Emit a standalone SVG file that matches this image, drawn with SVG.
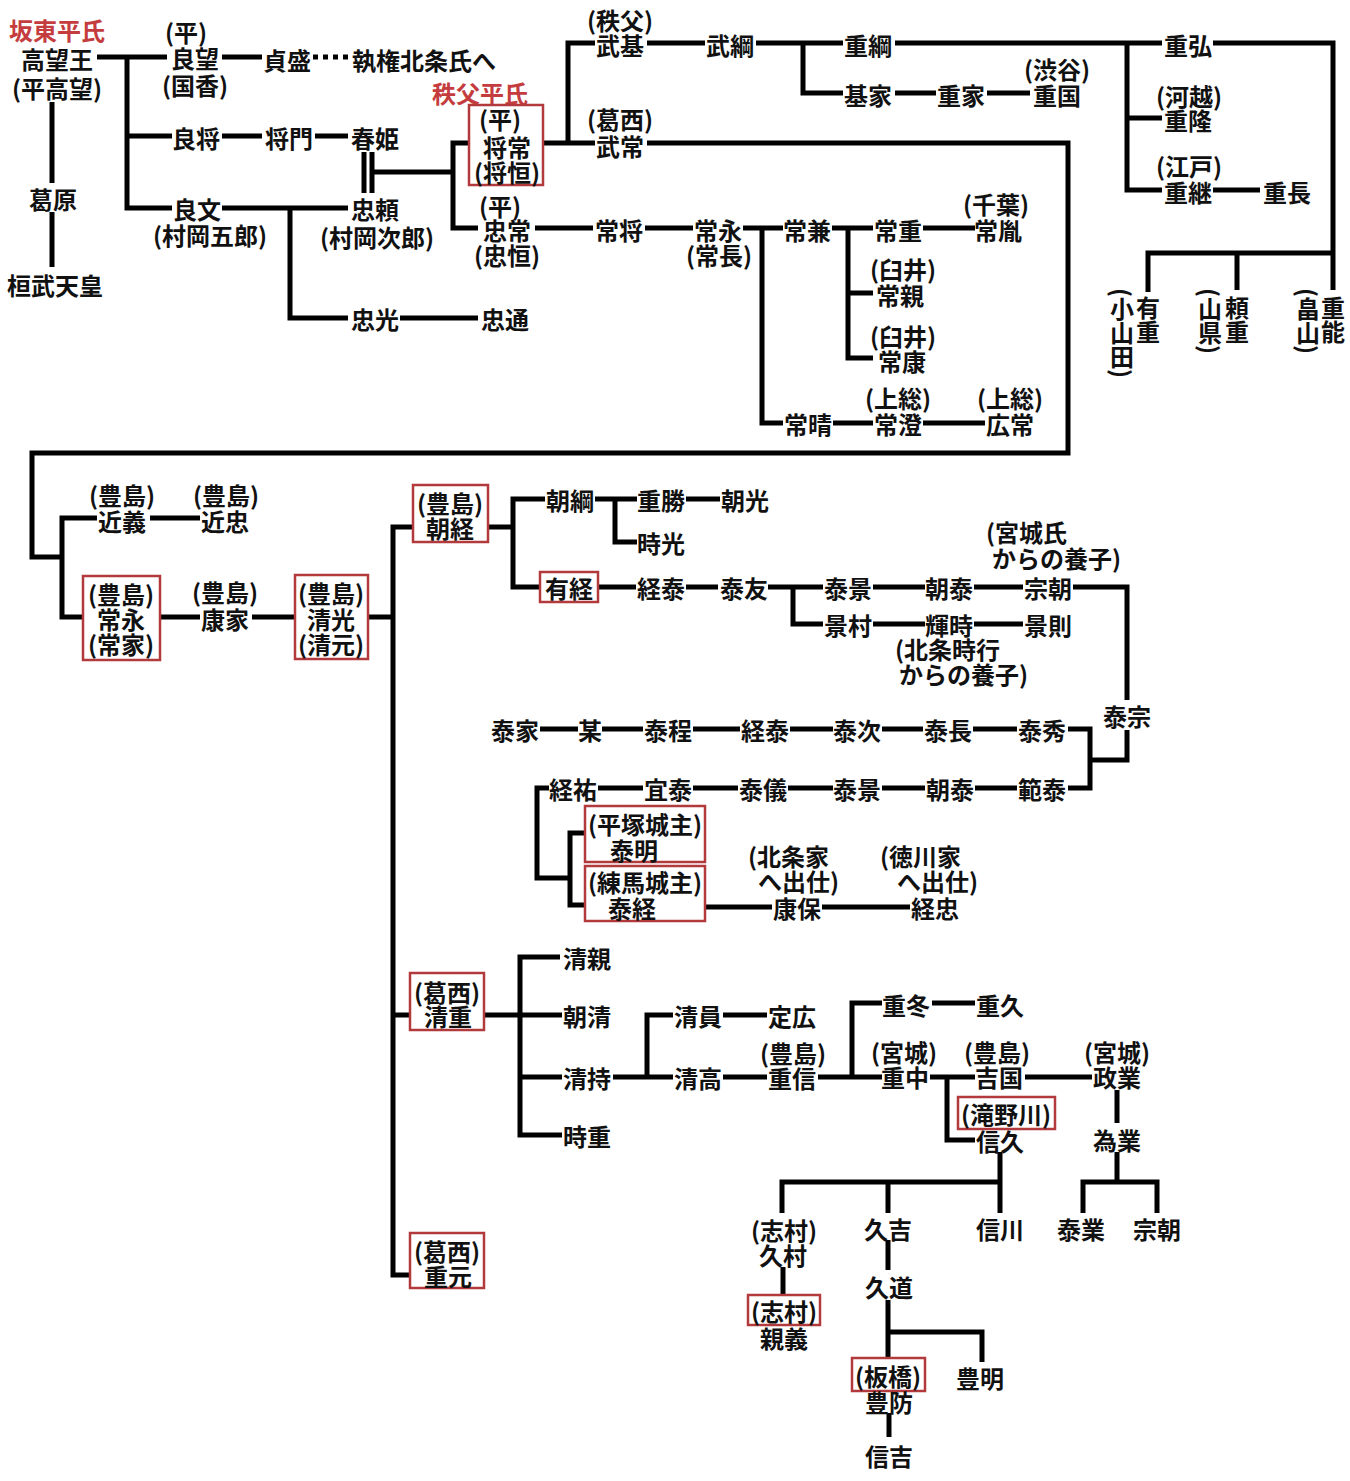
<svg xmlns="http://www.w3.org/2000/svg" width="1350" height="1481" viewBox="0 0 1350 1481">
<style>
text{font-family:"Noto Sans CJK JP","Noto Sans CJK SC",sans-serif;font-size:24px;font-weight:bold;fill:#111;text-anchor:middle;dominant-baseline:central}
text.s{text-anchor:start}
text.r{fill:#c43c3e}
text.v{writing-mode:vertical-rl;text-anchor:start}
.box{fill:none;stroke:#b23a3c;stroke-width:2.5}
.ln{fill:none;stroke:#000;stroke-width:5;stroke-linejoin:miter}
.dot{fill:none;stroke:#000;stroke-width:5;stroke-dasharray:5 5}
</style>
<rect width="1350" height="1481" fill="#fff"/>
<g id="connectors">
<path class="ln" d="M97,57 H167 M127,57 V208 H172 M127,136 H172"/>
<path class="ln" d="M52,102 V183 M52,212 V267"/>
<path class="ln" d="M222,57 H262"/>
<path class="dot" d="M313,57 H352"/>
<path class="ln" d="M222,136 H262 M315,136 H348"/>
<path class="ln" d="M364,152 V193 M372,152 V193 M372,172 H453"/>
<path class="ln" d="M222,208 H348 M290,208 V318 H348"/>
<path class="ln" d="M400,318 H478"/>
<path class="ln" d="M470,143 H453 V228 H478"/>
<path class="ln" d="M543,143 H595 M568,143 V43 H595"/>
<path class="ln" d="M647,43 H705 M756,43 H843 M803,43 V93 H843"/>
<path class="ln" d="M895,93 H936 M987,93 H1030"/>
<path class="ln" d="M895,43 H1162 M1127,43 V190 H1162 M1127,118 H1162"/>
<path class="ln" d="M1213,43 H1333 V290 M1148,292 V253 H1333 M1237,253 V290"/>
<path class="ln" d="M1213,190 H1260"/>
<path class="ln" d="M647,143 H1068 V453 H32 V557 H62 M97,518 H62 V617 H83"/>
<path class="ln" d="M150,518 H200"/>
<path class="ln" d="M535,228 H593 M645,228 H693 M743,228 H783 M762,228 V423 H783"/>
<path class="ln" d="M832,228 H873 M848,228 V358 H873 M848,293 H873"/>
<path class="ln" d="M923,228 H975"/>
<path class="ln" d="M833,423 H873 M923,423 H985"/>
<path class="ln" d="M160,617 H200 M252,617 H295 M368,617 H393 M413,527 H393 V1275 H410 M393,1015 H410"/>
<path class="ln" d="M488,527 H513 M545,499 H513 V587 H540"/>
<path class="ln" d="M595,499 H637 M615,499 V542 H637 M686,499 H720"/>
<path class="ln" d="M598,587 H636 M686,587 H718 M768,587 H823 M793,587 V624 H823"/>
<path class="ln" d="M873,587 H925 M974,587 H1023 M1073,587 H1127 V700"/>
<path class="ln" d="M873,624 H925 M974,624 H1023"/>
<path class="ln" d="M1127,730 V760 H1090 M1068,729 H1090 V788 H1068"/>
<path class="ln" d="M540,729 H578 M602,729 H643 M693,729 H740 M790,729 H833 M882,729 H923 M973,729 H1017"/>
<path class="ln" d="M598,788 H643 M693,788 H738 M788,788 H833 M882,788 H925 M975,788 H1017"/>
<path class="ln" d="M549,788 H537 V878 H570 M585,833 H570 V905 H585"/>
<path class="ln" d="M705,907 H772 M822,907 H910"/>
<path class="ln" d="M484,1015 H520 M560,957 H520 V1135 H562 M520,1077 H562 M520,1015 H562"/>
<path class="ln" d="M613,1077 H673 M647,1077 V1015 H673"/>
<path class="ln" d="M723,1015 H767 M723,1077 H767"/>
<path class="ln" d="M818,1077 H882 M852,1077 V1003 H882 M932,1003 H975"/>
<path class="ln" d="M930,1077 H975 M947,1077 V1140 H975 M1025,1077 H1092"/>
<path class="ln" d="M1117,1090 V1123 M1117,1152 V1182 M1083,1213 V1182 H1157 V1213"/>
<path class="ln" d="M1000,1152 V1213 M1000,1182 H782 V1213 M888,1182 V1213"/>
<path class="ln" d="M783,1267 V1296"/>
<path class="ln" d="M888,1240 V1270 M888,1300 V1358 M888,1332 H982 V1362"/>
<path class="ln" d="M889,1413 V1437"/>
</g>
<g id="n_bandou"><text class="r" x="57" y="29">坂東平氏</text></g>
<g id="n_takamochi"><text x="57" y="58">高望王</text><text x="57" y="87">(平高望)</text></g>
<g id="n_kuzuhara"><text x="53" y="198">葛原</text></g>
<g id="n_kanmu"><text x="55" y="284">桓武天皇</text></g>
<g id="n_yoshimochi"><text x="186" y="31">(平)</text><text x="195" y="57">良望</text><text x="195" y="84">(国香)</text></g>
<g id="n_sadamori"><text x="287" y="59">貞盛</text></g>
<g id="n_shikken"><text x="424" y="59">執権北条氏へ</text></g>
<g id="n_yoshimasa"><text x="196" y="137">良将</text></g>
<g id="n_masakado"><text x="289" y="137">将門</text></g>
<g id="n_haruhime"><text x="375" y="137">春姫</text></g>
<g id="n_yoshifumi"><text x="197" y="208">良文</text><text x="210" y="234">(村岡五郎)</text></g>
<g id="n_tadayori"><text x="375" y="208">忠頼</text><text x="377" y="236">(村岡次郎)</text></g>
<g id="n_tadamitsu"><text x="375" y="318">忠光</text></g>
<g id="n_tadamichi"><text x="505" y="318">忠通</text></g>
<g id="n_chichibu"><text class="r" x="480" y="92">秩父平氏</text></g>
<g id="n_masatsune"><rect class="box" x="469" y="105" width="74" height="80"/><text x="500" y="118">(平)</text><text x="507" y="146">将常</text><text x="507" y="171">(将恒)</text></g>
<g id="n_taketomo"><text x="620" y="19">(秩父)</text><text x="620" y="44">武基</text></g>
<g id="n_taketsuna"><text x="730" y="44">武綱</text></g>
<g id="n_shigetsuna"><text x="868" y="44">重綱</text></g>
<g id="n_motoie"><text x="868" y="94">基家</text></g>
<g id="n_shigeie"><text x="961" y="94">重家</text></g>
<g id="n_shigekuni"><text x="1057" y="68">(渋谷)</text><text x="1057" y="94">重国</text></g>
<g id="n_shigehiro"><text x="1188" y="44">重弘</text></g>
<g id="n_shigetaka"><text x="1189" y="95">(河越)</text><text x="1188" y="119">重隆</text></g>
<g id="n_shigetsugu"><text x="1189" y="165">(江戸)</text><text x="1188" y="191">重継</text></g>
<g id="n_shigenaga"><text x="1287" y="191">重長</text></g>
<g id="n_arishige"><text class="v" x="1122" y="288">(小山田)</text><text class="v" x="1148" y="296">有重</text></g>
<g id="n_yorishige"><text class="v" x="1210" y="288">(山県)</text><text class="v" x="1237" y="296">頼重</text></g>
<g id="n_shigeyoshi"><text class="v" x="1308" y="288">(畠山)</text><text class="v" x="1333" y="296">重能</text></g>
<g id="n_taketsune"><text x="620" y="118">(葛西)</text><text x="620" y="145">武常</text></g>
<g id="n_tadatsune"><text x="500" y="205">(平)</text><text x="507" y="229">忠常</text><text x="507" y="254">(忠恒)</text></g>
<g id="n_tsunemasa"><text x="619" y="229">常将</text></g>
<g id="n_tsunenaga"><text x="718" y="229">常永</text><text x="719" y="254">(常長)</text></g>
<g id="n_tsunekane"><text x="807" y="229">常兼</text></g>
<g id="n_tsuneshige"><text x="898" y="229">常重</text></g>
<g id="n_tsunetane"><text x="996" y="203">(千葉)</text><text x="998" y="229">常胤</text></g>
<g id="n_tsunechika"><text x="903" y="268">(臼井)</text><text x="900" y="294">常親</text></g>
<g id="n_tsuneyasu"><text x="903" y="335">(臼井)</text><text x="902" y="360">常康</text></g>
<g id="n_tsuneharu"><text x="808" y="423">常晴</text></g>
<g id="n_tsunezumi"><text x="898" y="397">(上総)</text><text x="898" y="423">常澄</text></g>
<g id="n_hirotsune"><text x="1010" y="397">(上総)</text><text x="1010" y="423">広常</text></g>
<g id="n_chikayoshi"><text x="122" y="494">(豊島)</text><text x="122" y="520">近義</text></g>
<g id="n_chikatada"><text x="226" y="494">(豊島)</text><text x="225" y="520">近忠</text></g>
<g id="n_tsunenaga2"><rect class="box" x="83" y="576" width="77" height="84"/><text x="121" y="593">(豊島)</text><text x="121" y="618">常永</text><text x="121" y="643">(常家)</text></g>
<g id="n_yasuie"><text x="225" y="591">(豊島)</text><text x="225" y="618">康家</text></g>
<g id="n_kiyomitsu"><rect class="box" x="295" y="575" width="73" height="84"/><text x="331" y="592">(豊島)</text><text x="331" y="618">清光</text><text x="331" y="643">(清元)</text></g>
<g id="n_tomotsune"><rect class="box" x="413" y="485" width="75" height="57"/><text x="450" y="502">(豊島)</text><text x="450" y="527">朝経</text></g>
<g id="n_tomotsuna"><text x="570" y="499">朝綱</text></g>
<g id="n_shigekatsu"><text x="661" y="499">重勝</text></g>
<g id="n_tomomitsu"><text x="745" y="499">朝光</text></g>
<g id="n_tokimitsu"><text x="661" y="542">時光</text></g>
<g id="n_aritsune"><rect class="box" x="540" y="572" width="58" height="30"/><text x="569" y="587">有経</text></g>
<g id="n_tsuneyasu2"><text x="661" y="587">経泰</text></g>
<g id="n_yasutomo"><text x="744" y="587">泰友</text></g>
<g id="n_yasukage"><text x="848" y="587">泰景</text></g>
<g id="n_tomoyasu"><text x="949" y="587">朝泰</text></g>
<g id="n_munetomo"><text class="s" x="986" y="531">(宮城氏</text><text class="s" x="992" y="557">からの養子)</text><text x="1048" y="587">宗朝</text></g>
<g id="n_kagemura"><text x="848" y="624">景村</text></g>
<g id="n_terutoki"><text x="949" y="624">輝時</text><text class="s" x="895" y="648">(北条時行</text><text class="s" x="899" y="673">からの養子)</text></g>
<g id="n_kagenori"><text x="1048" y="624">景則</text></g>
<g id="n_yasumune"><text x="1127" y="715">泰宗</text></g>
<g id="n_yasuie2"><text x="515" y="729">泰家</text></g>
<g id="n_bou"><text x="590" y="729">某</text></g>
<g id="n_yasunori"><text x="668" y="729">泰程</text></g>
<g id="n_tsuneyasu3"><text x="765" y="729">経泰</text></g>
<g id="n_yasutsugu"><text x="857" y="729">泰次</text></g>
<g id="n_yasunaga"><text x="948" y="729">泰長</text></g>
<g id="n_yasuhide"><text x="1042" y="729">泰秀</text></g>
<g id="n_tsunesuke"><text x="573" y="788">経祐</text></g>
<g id="n_yoshiyasu"><text x="668" y="788">宜泰</text></g>
<g id="n_yasunori2"><text x="763" y="788">泰儀</text></g>
<g id="n_yasukage2"><text x="857" y="788">泰景</text></g>
<g id="n_tomoyasu2"><text x="950" y="788">朝泰</text></g>
<g id="n_noriyasu"><text x="1042" y="788">範泰</text></g>
<g id="n_yasuaki"><rect class="box" x="585" y="806" width="120" height="56"/><text x="645" y="823">(平塚城主)</text><text x="634" y="849">泰明</text></g>
<g id="n_yasutsune"><rect class="box" x="585" y="866" width="120" height="55"/><text x="645" y="881">(練馬城主)</text><text x="632" y="907">泰経</text></g>
<g id="n_yasuyasu"><text class="s" x="748" y="855">(北条家</text><text class="s" x="758" y="880">へ出仕)</text><text x="797" y="907">康保</text></g>
<g id="n_tsunetada"><text class="s" x="880" y="855">(徳川家</text><text class="s" x="897" y="880">へ出仕)</text><text x="935" y="907">経忠</text></g>
<g id="n_kiyoshige"><rect class="box" x="410" y="973" width="74" height="57"/><text x="447" y="991">(葛西)</text><text x="448" y="1015">清重</text></g>
<g id="n_kiyochika"><text x="587" y="957">清親</text></g>
<g id="n_tomokiyo"><text x="587" y="1015">朝清</text></g>
<g id="n_kiyomochi"><text x="587" y="1077">清持</text></g>
<g id="n_tokishige"><text x="587" y="1135">時重</text></g>
<g id="n_kiyokazu"><text x="698" y="1015">清員</text></g>
<g id="n_sadahiro"><text x="792" y="1015">定広</text></g>
<g id="n_kiyotaka"><text x="698" y="1077">清高</text></g>
<g id="n_shigenobu"><text x="793" y="1052">(豊島)</text><text x="792" y="1077">重信</text></g>
<g id="n_shigefuyu"><text x="906" y="1004">重冬</text></g>
<g id="n_shigehisa"><text x="1000" y="1004">重久</text></g>
<g id="n_shigenaka"><text x="904" y="1051">(宮城)</text><text x="905" y="1076">重中</text></g>
<g id="n_yoshikuni"><text x="997" y="1051">(豊島)</text><text x="999" y="1076">吉国</text></g>
<g id="n_masanari"><text x="1117" y="1051">(宮城)</text><text x="1117" y="1076">政業</text></g>
<g id="n_nobuhisa"><rect class="box" x="958" y="1097" width="97" height="32"/><text x="1006" y="1113">(滝野川)</text><text x="1000" y="1140">信久</text></g>
<g id="n_tamenari"><text x="1117" y="1139">為業</text></g>
<g id="n_nobukawa"><text x="1000" y="1228">信川</text></g>
<g id="n_yasunari"><text x="1081" y="1228">泰業</text></g>
<g id="n_munetomo2"><text x="1157" y="1228">宗朝</text></g>
<g id="n_hisamura"><text x="784" y="1229">(志村)</text><text x="783" y="1254">久村</text></g>
<g id="n_chikayoshi2"><rect class="box" x="748" y="1295" width="72" height="30"/><text x="784" y="1310">(志村)</text><text x="784" y="1337">親義</text></g>
<g id="n_hisayoshi"><text x="888" y="1228">久吉</text></g>
<g id="n_hisamichi"><text x="889" y="1286">久道</text></g>
<g id="n_toyofusa"><rect class="box" x="852" y="1358" width="73" height="33"/><text x="888" y="1375">(板橋)</text><text x="889" y="1401">豊防</text></g>
<g id="n_toyoaki"><text x="980" y="1377">豊明</text></g>
<g id="n_nobuyoshi"><text x="889" y="1455">信吉</text></g>
<g id="n_shigemoto"><rect class="box" x="410" y="1233" width="74" height="55"/><text x="447" y="1250">(葛西)</text><text x="448" y="1275">重元</text></g>
</svg>
